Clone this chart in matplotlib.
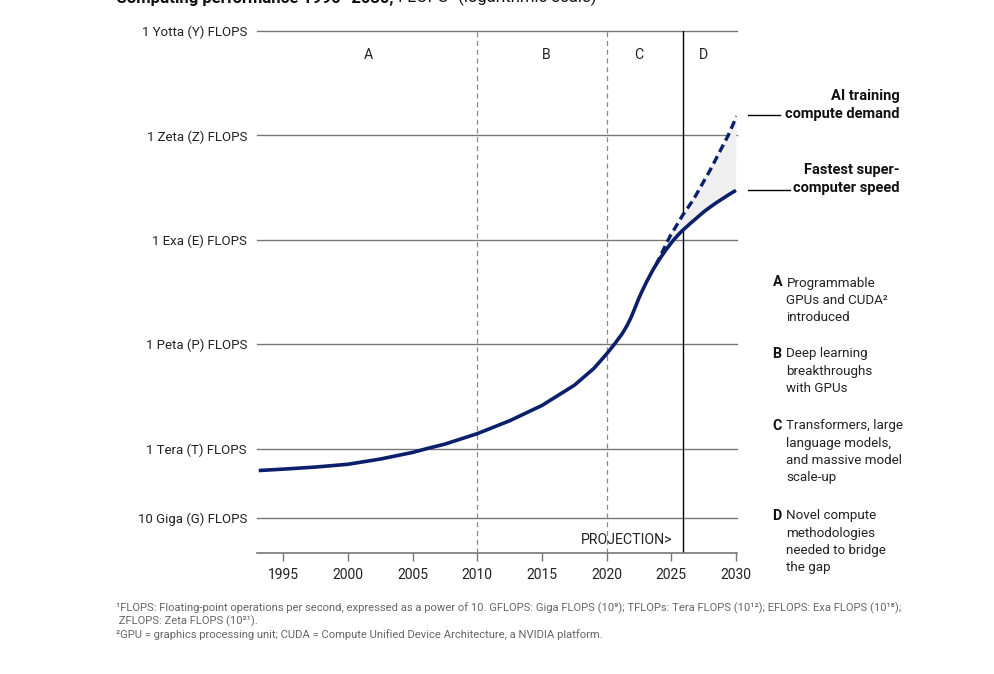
import matplotlib
matplotlib.use("Agg")
import matplotlib.pyplot as plt
import numpy as np

plt.rcParams['font.family'] = ['Roboto', 'DejaVu Sans']

# ---- data ----
y_levels = [1e10, 1e12, 1e15, 1e18, 1e21, 1e24]
y_labels = ["10 Giga (G) FLOPS", "1 Tera (T) FLOPS", "1 Peta (P) FLOPS",
            "1 Exa (E) FLOPS", "1 Zeta (Z) FLOPS", "1 Yotta (Y) FLOPS"]
x_ticks = [1995, 2000, 2005, 2010, 2015, 2020, 2025, 2030]

super_years = [1993.1, 1995, 1997.5, 2000, 2002.5, 2005, 2006.1, 2007.5, 2010,
               2012.5, 2015, 2017.5, 2019, 2020, 2020.6, 2021.2, 2021.6, 2021.9,
               2022.2, 2022.5, 2022.8, 2023.1, 2023.6, 2024.1, 2024.6, 2025.1,
               2025.5, 2025.9, 2026.5, 2027, 2027.5, 2028, 2028.5, 2029, 2029.5, 2030]
super_log = [11.37, 11.41, 11.47, 11.55, 11.7, 11.89, 12.0, 12.13, 12.43,
             12.8, 13.24, 13.82, 14.3, 14.72, 15.0, 15.3, 15.55, 15.78,
             16.05, 16.33, 16.57, 16.8, 17.15, 17.45, 17.72, 17.96,
             18.13, 18.28, 18.48, 18.64, 18.8, 18.94, 19.07, 19.19, 19.31, 19.42]

ai_years = [2023.8, 2024.9, 2025.9, 2026.7, 2028.0, 2029.4, 2030.05]
ai_log = [17.27, 18.1, 18.72, 19.15, 20.0, 21.0, 21.55]

era_lines = [2010, 2020]
projection_year = 2025.9
era_labels = ["A", "B", "C", "D"]
era_label_x = [2001.6, 2015.3, 2022.5, 2027.5]

notes = [("A", "Programmable\nGPUs and CUDA²\nintroduced"),
         ("B", "Deep learning\nbreakthroughs\nwith GPUs"),
         ("C", "Transformers, large\nlanguage models,\nand massive model\nscale-up"),
         ("D", "Novel compute\nmethodologies\nneeded to bridge\nthe gap")]
note_y = [283, 354, 426, 516]

navy = "#0b1f6b"
grid_c = "#777777"

W, H = 995, 674
fig = plt.figure(figsize=(W / 100, H / 100), dpi=100)
ax = fig.add_axes([256.7 / W, 1 - 553 / H, (737 - 256.7) / W, (553 - 31) / H])
ax.set_yscale("log")
ax.set_xlim(1992.94, 2030.08)
ax.set_ylim(1e9, 1e24)

for s in ["top", "right", "left"]:
    ax.spines[s].set_visible(False)
ax.spines["bottom"].set_color(grid_c)
ax.spines["bottom"].set_linewidth(1.2)

for yl in y_levels:
    ax.axhline(yl, color=grid_c, lw=1, zorder=1, clip_on=False)
ax.set_yticks(y_levels)
ax.set_yticklabels(y_labels, fontsize=9.5, color="#222222")
ax.yaxis.set_minor_locator(matplotlib.ticker.NullLocator())
ax.tick_params(axis="y", length=0, pad=7)

ax.set_xticks(x_ticks)
ax.set_xticklabels([str(v) for v in x_ticks], fontsize=10, color="#222222")
ax.tick_params(axis="x", length=6, width=1, color=grid_c, pad=5)

for xv in era_lines:
    ax.axvline(xv, color="#888888", lw=0.9, ls=(0, (4, 3)), zorder=1)
ax.axvline(projection_year, color="black", lw=1, zorder=1)

for lab, xv in zip(era_labels, era_label_x):
    ax.text(xv, 10 ** 23.3, lab, ha="center", va="center", fontsize=10.2, color="#222222")

ax.text(projection_year - 0.85, 10 ** 9.38, "PROJECTION>", ha="right", va="center",
        fontsize=10.2, color="#222222")

# shaded gap
sx = np.array(super_years)
sl = np.array(super_log)
mask = sx >= ai_years[0]
poly_x = np.r_[ai_years, sx[mask][::-1]]
poly_y = np.r_[ai_log, sl[mask][::-1]]
ax.fill(poly_x, 10 ** poly_y, color="#efefef", zorder=2, lw=0)

ax.plot(super_years, 10 ** sl, color=navy, lw=2.6, zorder=4,
        solid_joinstyle="round", solid_capstyle="butt")
ax.plot(ai_years, 10 ** np.array(ai_log), color=navy, lw=2.4, ls=(0, (2.5, 1.4)), zorder=3)

# right-hand labels
def fx(px):
    return px / W

def fy(py):
    return 1 - py / H

fig.add_artist(plt.Line2D([fx(748), fx(780)], [fy(115), fy(115)], color="black", lw=1))
fig.add_artist(plt.Line2D([fx(748), fx(790)], [fy(190), fy(190)], color="black", lw=1))
fig.text(fx(900), fy(105), "AI training\ncompute demand", ha="right", va="center",
         fontsize=10.5, fontweight="bold", color="#111111", linespacing=1.35)
fig.text(fx(900), fy(179), "Fastest super-\ncomputer speed", ha="right", va="center",
         fontsize=10.5, fontweight="bold", color="#111111", linespacing=1.35)

for (letter, txt), py in zip(notes, note_y):
    fig.text(fx(772.5), fy(py - 7.5), letter, ha="left", va="top", fontsize=10.3,
             fontweight="bold", color="#111111")
    fig.text(fx(786.5), fy(py - 6.5), txt, ha="left", va="top", fontsize=9.6,
             color="#222222", linespacing=1.42)

# title (cut at top, as in the reference)
t1 = fig.text(fx(116), fy(3), "Computing performance 1990–2030,", ha="left",
              va="baseline", fontsize=12, fontweight="bold", color="#111111")
ax.annotate(" FLOPS¹ (logarithmic scale)", xy=(1, 0), xycoords=t1, ha="left",
            va="bottom", fontsize=12, color="#111111", annotation_clip=False)

foot = ("¹FLOPS: Floating-point operations per second, expressed as a power of 10. "
        "GFLOPS: Giga FLOPS (10⁹); TFLOPs: Tera FLOPS (10¹²); EFLOPS: Exa FLOPS (10¹⁸);\n"
        " ZFLOPS: Zeta FLOPS (10²¹).\n"
        "²GPU = graphics processing unit; CUDA = Compute Unified Device Architecture, a NVIDIA platform.")
fig.text(fx(116), fy(602.5), foot, ha="left", va="top", fontsize=8.15, color="#666666",
         linespacing=1.2)

fig.savefig("out.png", dpi=100)
